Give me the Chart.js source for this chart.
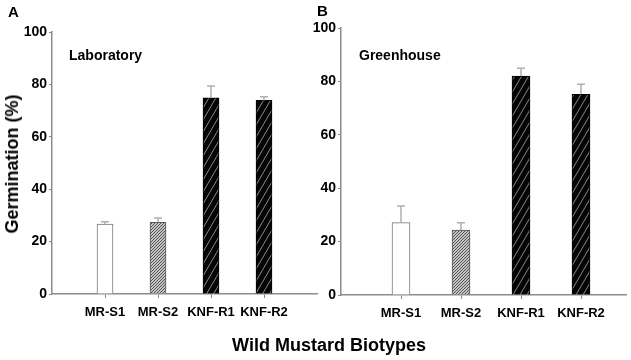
<!DOCTYPE html>
<html>
<head>
<meta charset="utf-8">
<script src="https://cdn.jsdelivr.net/npm/chart.js@4.4.1/dist/chart.umd.min.js"></script>
<style>
    body { margin: 0; background: #fff; }
    #wrap { position: relative; width: 631px; height: 360px; overflow: hidden; font-family: "Liberation Sans", Arial, sans-serif; font-weight: bold; color: #000; }
    canvas { position: absolute; top: 0; }
    .lbl { position: absolute; white-space: nowrap; line-height: 1; }
</style>
</head>
<body>
<div id="wrap">
    <canvas id="chartA" width="320" height="360" style="left:0"></canvas>
    <canvas id="chartB" width="331" height="360" style="left:300px"></canvas>
    <div class="lbl" style="left:8px; top:4px; font-size:15px;">A</div>
    <div class="lbl" style="left:317px; top:3px; font-size:15px;">B</div>
    <div class="lbl" style="left:69px; top:48px; font-size:14px;">Laboratory</div>
    <div class="lbl" style="left:359px; top:48px; font-size:14px;">Greenhouse</div>
    <div class="lbl" style="left:12px; top:164px; font-size:18px; transform: translate(-50%, -50%) rotate(-90deg);">Germination (%)</div>
    <div class="lbl" style="left:329px; top:345px; font-size:18px; transform: translate(-50%, -50%);">Wild Mustard Biotypes</div>
</div>
<script>
const categories = ['MR-S1', 'MR-S2', 'KNF-R1', 'KNF-R2'];
const labMeans = [26.7, 27.4, 74.9, 73.9];
const labErrors = [0.9, 1.6, 4.5, 1.4];
const ghMeans = [27.1, 24.3, 82.0, 75.2];
const ghErrors = [6.2, 2.8, 2.9, 3.7];
const yTicks = [0, 20, 40, 60, 80, 100];

// fill patterns for the bars
function makeHatch(bg, fg, w, h, lw) {
    const c = document.createElement('canvas');
    c.width = w;
    c.height = h;
    const g = c.getContext('2d');
    g.fillStyle = bg;
    g.fillRect(0, 0, w, h);
    g.strokeStyle = fg;
    g.lineWidth = lw;
    g.beginPath();
    g.moveTo(-w, h * 2); g.lineTo(w * 2, -h);
    g.moveTo(-w * 2, h * 2); g.lineTo(w, -h);
    g.moveTo(0, h * 2); g.lineTo(w * 3, -h);
    g.stroke();
    return g.createPattern(c, 'repeat');
}

function barFills() {
    const fine = makeHatch('#c4c4c4', '#555', 3, 3, 1);
    const wide = makeHatch('#050505', '#8a8a8a', 7, 12, 1);
    return [
        { bg: '#ffffff', border: '#777' },
        { bg: fine, border: '#555' },
        { bg: wide, border: '#000' },
        { bg: wide, border: '#000' }
    ];
}

const errorBars = {
    id: 'errorBars',
    afterDatasetsDraw(chart, args, opts) {
        const ctx = chart.ctx;
        const xs = chart.scales.x;
        const ys = chart.scales.y;
        ctx.save();
        ctx.strokeStyle = '#b0b0b0';
        ctx.lineWidth = 1.5;
        opts.means.forEach((m, i) => {
            const x = xs.getPixelForValue(i + 1);
            const y0 = ys.getPixelForValue(m);
            const y1 = ys.getPixelForValue(m + opts.errors[i]);
            ctx.beginPath();
            ctx.moveTo(x, y0);
            ctx.lineTo(x, y1);
            ctx.moveTo(x - 4, y1);
            ctx.lineTo(x + 4, y1);
            ctx.stroke();
        });
        ctx.restore();
    }
};

function buildChart(id, means, errors, cfg) {
    const fills = barFills();
    return new Chart(document.getElementById(id), {
        type: 'bar',
        data: {
            datasets: [{
                data: means.map((v, i) => ({ x: i + 1, y: v })),
                backgroundColor: fills.map(f => f.bg),
                borderColor: fills.map(f => f.border),
                borderWidth: 1,
                barThickness: cfg.barWidth
            }]
        },
        options: {
            responsive: false,
            animation: false,
            devicePixelRatio: 1,
            layout: { padding: { top: cfg.top, right: cfg.right, bottom: 360 - cfg.bottom - 30, left: 0 } },
            plugins: {
                legend: { display: false },
                tooltip: { enabled: false },
                errorBars: { means: means, errors: errors }
            },
            scales: {
                x: {
                    type: 'linear',
                    offset: false,
                    min: 0,
                    max: cfg.xMax,
                    afterBuildTicks: s => { s.ticks = categories.map((c, i) => ({ value: i + 1 })); },
                    afterFit: s => { s.height = 30; },
                    ticks: {
                        autoSkip: false,
                        maxRotation: 0,
                        color: '#000',
                        padding: 7,
                        font: { family: 'Liberation Sans', size: 13, weight: 'bold' },
                        callback: v => categories[v - 1]
                    },
                    grid: { offset: false, drawOnChartArea: false, drawTicks: true, tickLength: 4, color: '#888', lineWidth: 1 },
                    border: { display: true, color: '#8c8c8c', width: 1.5 }
                },
                y: {
                    min: 0,
                    max: 100,
                    afterBuildTicks: s => { s.ticks = yTicks.map(v => ({ value: v })); },
                    afterFit: s => { s.width = cfg.yWidth; },
                    ticks: {
                        color: '#000',
                        padding: 2,
                        font: { family: 'Liberation Sans', size: 14, weight: 'bold' }
                    },
                    grid: { drawOnChartArea: false, drawTicks: true, tickLength: 3, color: '#888', lineWidth: 1 },
                    border: { display: true, color: '#8c8c8c', width: 1.5 }
                }
            }
        },
        plugins: [errorBars]
    });
}

buildChart('chartA', labMeans, labErrors, { top: 32, bottom: 294, right: 3, yWidth: 52, xMax: 5, barWidth: 16 });
buildChart('chartB', ghMeans, ghErrors, { top: 28, bottom: 295, right: 5, yWidth: 41, xMax: 4.75, barWidth: 18 });
</script>
</body>
</html>
